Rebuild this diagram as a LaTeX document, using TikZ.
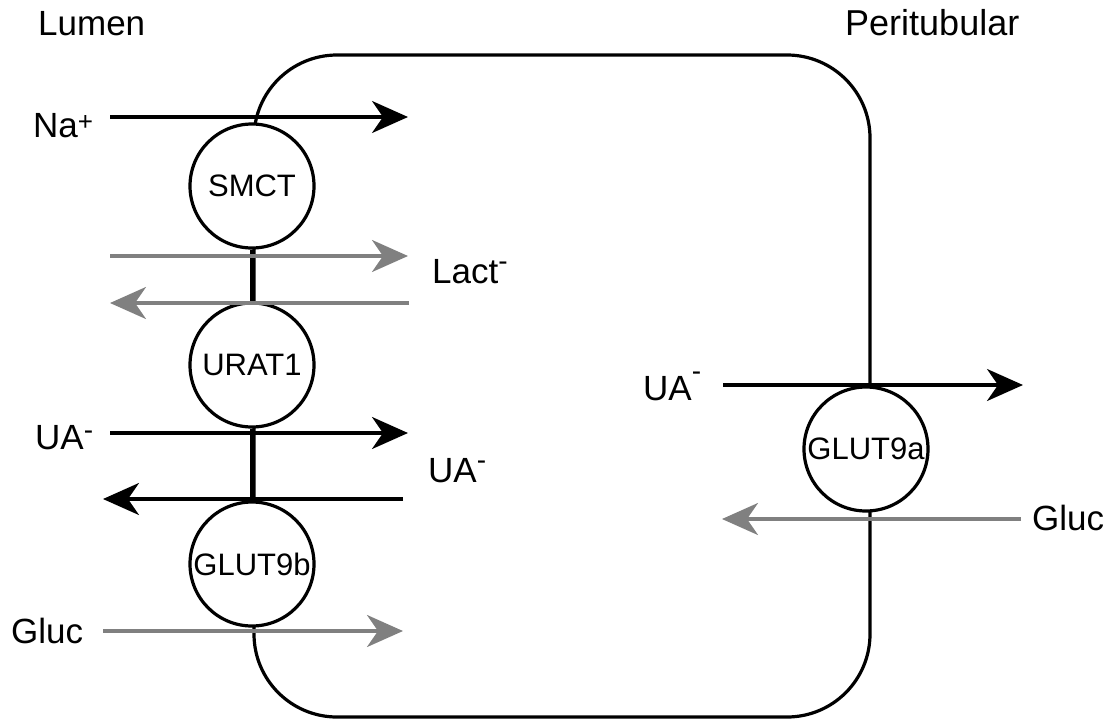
\documentclass[tikz,border=0pt]{standalone}
\usepackage{fontspec}
\setmainfont{Liberation Sans}
\usetikzlibrary{arrows.meta}
\definecolor{ingray}{RGB}{128,128,128}
% small raised charge signs for the ion labels
\newcommand\ionminus[1]{\raisebox{#1}{\fontsize{28pt}{28pt}\selectfont -}}
\newcommand\ionplus{\raisebox{6.5pt}{\fontsize{26pt}{26pt}\selectfont +}}

\begin{document}
\begin{tikzpicture}[x=1pt,y=-1pt,
  membrane/.style={line width=3.2pt},
  transporter/.style={circle, draw, line width=3.2pt, fill=white,
    minimum size=124pt, inner sep=0pt, font=\fontsize{31pt}{31pt}\selectfont},
  flux/.style={line width=3.2pt, -{Stealth[length=36pt,width=32pt,inset=11pt]}},
  dark flux/.style={flux, draw=black},
  pale flux/.style={flux, draw=ingray},
  ionlabel/.style={anchor=base west, inner sep=0pt, font=\fontsize{35pt}{35pt}\selectfont}]

\useasboundingbox (0,0) rectangle (1115,723);

% the cell
\draw[membrane, rounded corners=83pt] (254,55) rectangle (870,717);

% transporters in the apical and basolateral membranes
\node[transporter] (smct)   at (252,186) {SMCT};
\node[transporter] (urat1)  at (252,365) {URAT1};
\node[transporter] (glut9b) at (252,564) {GLUT9b};
\node[transporter] (glut9a) at (866,449) {GLUT9a};

\draw[membrane] (smct) -- (urat1);
\draw[membrane] (urat1) -- (glut9b);

% end points of the fluxes
\coordinate (naL)    at (110,117);  \coordinate (naR)    at (408,117);
\coordinate (lacL)   at (110,256);  \coordinate (lacR)   at (408,256);
\coordinate (lac2L)  at (110,303);  \coordinate (lac2R)  at (409,303);
\coordinate (uaL)    at (110,433);  \coordinate (uaR)    at (408,433);
\coordinate (ua2L)   at (103,499);  \coordinate (ua2R)   at (403,499);
\coordinate (glcL)   at (103,631);  \coordinate (glcR)   at (403,631);
\coordinate (uabL)   at (723,385);  \coordinate (uabR)   at (1023,385);
\coordinate (glcbL)  at (722,519);  \coordinate (glcbR)  at (1021,519);

\draw[dark flux] (naL) -- (naR);
\draw[pale flux] (lacL) -- (lacR);
\draw[pale flux] (lac2R) -- (lac2L);
\draw[dark flux] (uaL) -- (uaR);
\draw[dark flux] (ua2R) -- (ua2L);
\draw[pale flux] (glcL) -- (glcR);
\draw[dark flux] (uabL) -- (uabR);
\draw[pale flux] (glcbR) -- (glcbL);

% compartment and ion labels
\node[ionlabel] (lumen) at (38,35)  {Lumen};
\node[ionlabel, font=\fontsize{36pt}{36pt}\selectfont] (peri) at (845,35) {Peritubular};
\node[ionlabel] (na)    at (33,137) {Na\ionplus};
\node[ionlabel] (lact)  at (432,283) {Lact\ionminus{13pt}};
\node[ionlabel] (ua1)   at (35,449) {UA\ionminus{10pt}};
\node[ionlabel] (ua2)   at (428,482) {UA\ionminus{13pt}};
\node[ionlabel] (glc1)  at (11,643) {Gluc};
\node[ionlabel] (ua3)   at (643,400) {UA\ionminus{20pt}};
\node[ionlabel] (glc2)  at (1032,530) {Gluc};
\end{tikzpicture}
\end{document}
